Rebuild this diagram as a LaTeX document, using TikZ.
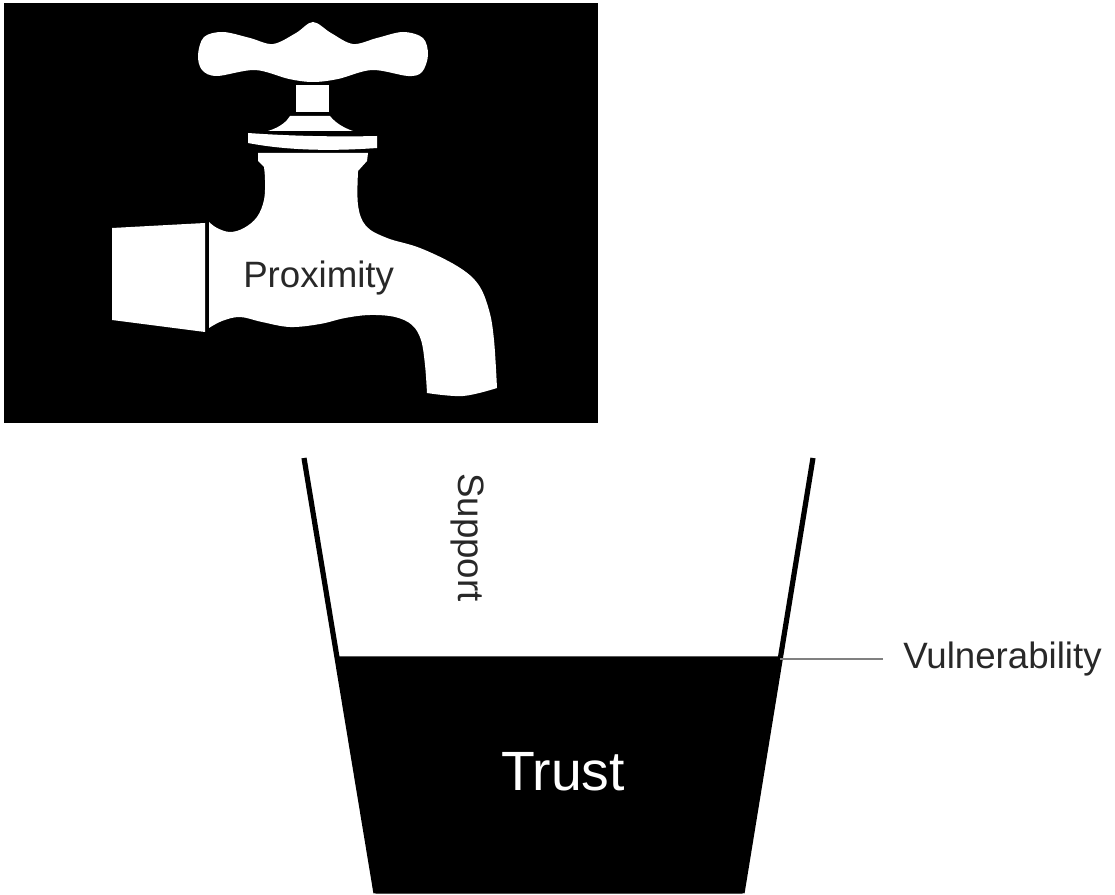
\documentclass[tikz,border=0pt]{standalone}
\usepackage{fontspec}
\setmainfont{Liberation Sans}
\definecolor{labelink}{RGB}{40,40,40}
\definecolor{leadergray}{RGB}{128,128,128}
\tikzset{
  label text/.style={inner sep=0pt, text=labelink, font=\fontsize{27.5pt}{33pt}\selectfont},
  tap part/.style={fill=white},
  cup wall/.style={line width=3.9pt, line cap=butt},
}
\begin{document}
\begin{tikzpicture}[x=0.75pt, y=-0.75pt]
\useasboundingbox (0,0) rectangle (1115,895);

% black panel behind the tap
\fill[black] (4,3) rectangle (598,423);

% cross handle
\fill[tap part] plot[smooth cycle, tension=0.55] coordinates {
  (198,55) (204,37) (223,32) (250,38) (273,44) (296,33) (313,22) (331,33)
  (353,44) (377,38) (403,32) (423,38) (428,55) (422,72) (408,76) (372,70)
  (338,79) (313,82) (289,79) (255,70) (217,76) (202,70)};
% stem
\fill[tap part] (296,85) rectangle (329,112);
% bonnet
\fill[tap part] (268,131) .. controls (281,127) and (287,121) .. (290,116)
  -- (330,116) .. controls (334,121) and (341,127) .. (353,131) -- cycle;
% curved ring
\fill[tap part] (248,133) .. controls (290,136) and (335,137) .. (377,136)
  -- (377,148) .. controls (335,151) and (290,151) .. (248,143) -- cycle;
% body with spout
\fill[tap part] (258,153) -- (368,153) -- (367,161) -- (358,171)
  -- plot[smooth, tension=0.6] coordinates {(358,172) (358,205) (366,226)
     (387,238) (420,248) (457,266) (478,284) (489,310) (494,340) (497,388)}
  -- plot[smooth, tension=0.6] coordinates {(497,388) (463,396) (427,393)}
  -- plot[smooth, tension=0.6] coordinates {(427,393) (425,365) (421,340)
     (412,325) (395,317) (370,315) (345,318) (320,324) (290,327) (262,322)
     (240,317) (222,321) (209,328)}
  -- (209,222)
  -- plot[smooth, tension=0.6] coordinates {(209,222) (217,228) (230,232)
     (244,228) (257,217) (264,200) (265,180) (264,167)}
  -- (258,161) -- cycle;
% pipe coupling
\fill[tap part] (112,228) -- (205,223) -- (205,332) -- (112,320) -- cycle;

\node[label text, anchor=base west] (proximity) at (243,287) {Proximity};

% cup with its contents
\fill[black, draw=black, line width=1pt] (337,657) -- (780,657) -- (742,893) -- (376,893) -- cycle;
\draw[cup wall] (304,458) -- (376,893);
\draw[cup wall] (813,458) -- (742,893);

\node[label text, anchor=base west, rotate=-90] (support) at (458,473) {Support};
\node[inner sep=0pt, text=white, font=\fontsize{41.5pt}{50pt}\selectfont, anchor=base] (trust) at (563,790) {Trust};

\node[label text, anchor=base west, inner xsep=15pt] (vuln) at (883,668) {Vulnerability};
\coordinate (rim) at (780,659);
\draw[leadergray, line width=1.1pt] (rim) -- (rim -| vuln.west);
\end{tikzpicture}
\end{document}
